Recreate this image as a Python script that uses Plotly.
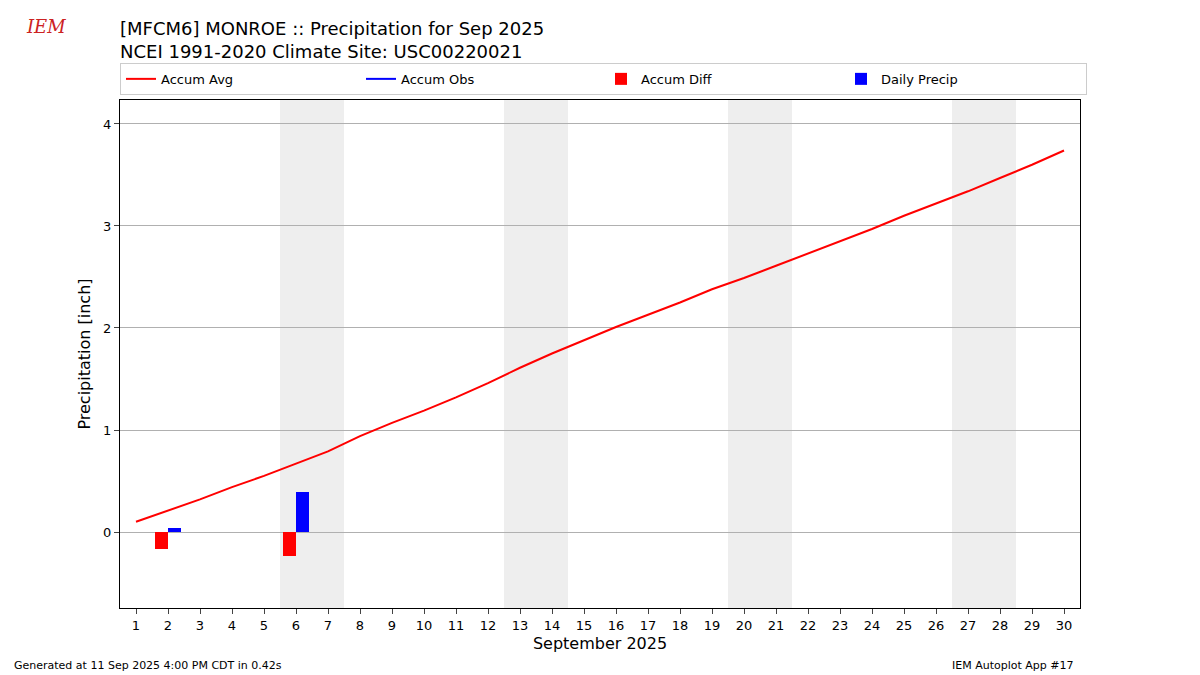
import plotly.graph_objects as go

days = list(range(1, 31))
accum_avg = [0.10, 0.21, 0.32, 0.44, 0.55, 0.67, 0.79, 0.94, 1.07, 1.19,
             1.32, 1.46, 1.61, 1.75, 1.88, 2.01, 2.13, 2.25, 2.38, 2.49,
             2.61, 2.73, 2.85, 2.97, 3.10, 3.22, 3.34, 3.47, 3.60, 3.74]
precip_days = [2, 6]
daily_precip = [0.04, 0.39]
accum_diff = [-0.17, -0.24]
weekends = [(5.5, 7.5), (12.5, 14.5), (19.5, 21.5), (26.5, 28.5)]

fig = go.Figure()
for a, b in weekends:
    fig.add_vrect(x0=a, x1=b, fillcolor="#eeeeee", line_width=0, layer="below")

fig.add_trace(go.Scatter(x=days, y=accum_avg, mode="lines", name="Accum Avg",
                         line=dict(color="red", width=2)))
fig.add_trace(go.Scatter(x=[None], y=[None], mode="lines", name="Accum Obs",
                         line=dict(color="blue", width=2)))
fig.add_trace(go.Bar(x=[d - 0.2 for d in precip_days], y=accum_diff, width=0.4,
                     name="Accum Diff", marker=dict(color="red", line_width=0)))
fig.add_trace(go.Bar(x=[d + 0.2 for d in precip_days], y=daily_precip, width=0.4,
                     name="Daily Precip", marker=dict(color="blue", line_width=0)))

fig.update_layout(
    width=1200, height=675, plot_bgcolor="white", paper_bgcolor="white",
    font=dict(family="DejaVu Sans", size=13, color="black"),
    margin=dict(l=112, r=128, t=92, b=75, autoexpand=False),
    barmode="overlay", bargap=0,
    title=dict(text="[MFCM6] MONROE :: Precipitation for Sep 2025<br>NCEI 1991-2020 Climate Site: USC00220021",
               x=112/1200, xanchor="left", y=0.96, yanchor="top",
               font=dict(size=18)),
    legend=dict(orientation="h", x=0, xanchor="left", y=1.01, yanchor="bottom",
                entrywidth=0.25, entrywidthmode="fraction",
                bordercolor="#cccccc", borderwidth=1, font=dict(size=13)),
    xaxis=dict(range=[0.5, 30.5], tickmode="array", tickvals=days,
               ticks="outside", showgrid=False, mirror=True, showline=True,
               linecolor="black", tickfont=dict(size=13),
               title=dict(text="September 2025", font=dict(size=16), standoff=6)),
    yaxis=dict(range=[-0.745, 4.235], tickvals=[0, 1, 2, 3, 4], ticks="outside",
               showgrid=True, gridcolor="#b0b0b0", zeroline=False, mirror=True,
               showline=True, linecolor="black", tickfont=dict(size=13),
               title=dict(text="Precipitation [inch]", font=dict(size=16), standoff=8)),
    annotations=[
        dict(text="Generated at 11 Sep 2025 4:00 PM CDT in 0.42s", xref="paper", yref="paper",
             x=-0.1125, y=-0.114, xanchor="left", yanchor="middle", showarrow=False, font=dict(size=11)),
        dict(text="IEM Autoplot App #17", xref="paper", yref="paper",
             x=0.996, y=-0.114, xanchor="right", yanchor="middle", showarrow=False, font=dict(size=11)),
        dict(text="<i>IEM</i>", xref="paper", yref="paper", x=-0.1, y=1.17,
             xanchor="left", showarrow=False, font=dict(size=18, color="#cc2222", family="DejaVu Serif")),
    ],
)

fig.write_html("out.html")
